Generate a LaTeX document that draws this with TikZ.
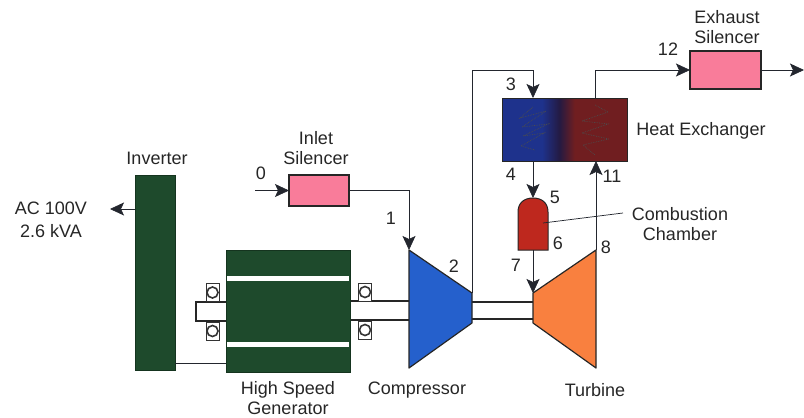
\documentclass[tikz,border=0pt]{standalone}
\usepackage{fontspec}
\setmainfont{Liberation Sans}
\usetikzlibrary{arrows.meta}

\definecolor{gendark}{HTML}{1E4A2C}
\definecolor{silpink}{HTML}{F97C9A}
\definecolor{compblue}{HTML}{2560CC}
\definecolor{turborange}{HTML}{F9803F}
\definecolor{chamred}{HTML}{BE281E}
\definecolor{lineblk}{HTML}{23262E}
\definecolor{hxblue}{HTML}{1E328C}
\definecolor{hxmid}{HTML}{241A42}
\definecolor{hxred}{HTML}{701E20}
\pgfdeclarehorizontalshading{hxshade}{100bp}{
  color(0bp)=(hxblue);
  color(41bp)=(hxblue);
  color(48bp)=(hxmid);
  color(54bp)=(hxred);
  color(100bp)=(hxred)}

\tikzset{
  lbl/.style={font=\fontsize{18}{20}\selectfont,text=black!85,inner sep=0pt,align=center},
  flow/.style={draw=lineblk,line width=0.7pt,-{Stealth[length=14pt,width=13pt,inset=3pt]}},
  plain/.style={draw=lineblk,line width=0.7pt},
  silbox/.style={draw=black!85,line width=1.2pt,fill=silpink,inner sep=0pt,outer sep=0pt},
  genbox/.style={draw=gendark!70!black,line width=0.8pt,fill=gendark,inner sep=0pt,outer sep=0pt},
  stripe/.style={fill=white,inner sep=0pt,outer sep=0pt,minimum width=122pt,minimum height=5pt},
  shaft/.style={draw=black!85,line width=1.2pt,fill=white},
  bearing/.style={draw=black!80,line width=1pt,fill=white,inner sep=0pt,outer sep=0pt,minimum width=13pt,minimum height=18pt},
  coil/.style={draw=black!70,line width=0.7pt,densely dotted}
}

\begin{document}
\begin{tikzpicture}[x=1pt,y=-1pt]
    \useasboundingbox (0,0) rectangle (804,418);

    % shaft
    \draw[shaft] (226,302) -- (196,302) -- (196,321) -- (226,321);
    \draw[shaft] (350,301) -- (409,301) (350,320) -- (409,320);
    \draw[shaft] (472,302) -- (533,302) (472,319) -- (533,319);

    % bearings
    \foreach \name/\x/\y in {bla/212.5/292.5,blb/212.5/331,bra/365/292,brb/365/330}
    {
        \node[bearing] (\name) at (\x,\y) {};
        \draw[black!80,line width=1.6pt] (\name.center) circle[radius=5.5pt];
    }

    % generator and inverter
    \node[genbox,minimum width=124pt,minimum height=122pt] (gen) at (288,311) {};
    \node[stripe] (stripea) at (288,278.5) {};
    \node[stripe] (stripeb) at (288,344.5) {};
    \node[genbox,minimum width=40pt,minimum height=195pt] (inverter) at (155,272.5) {};

    % silencers
    \node[silbox,minimum width=60pt,minimum height=31pt] (inletsil) at (319,190.5) {};
    \node[silbox,minimum width=71pt,minimum height=38pt] (exhsil) at (725.5,70) {};

    % heat exchanger
    \node[draw=black!85,line width=0.9pt,shading=hxshade,inner sep=0pt,outer sep=0pt,minimum width=125pt,minimum height=63pt] (hx) at (564.5,129.5) {};
    \draw[coil] (533,107) -- (520,118) -- (546,111) -- (522,127) -- (548,124) -- (523,136) -- (544,133) -- (521,146) -- (535,150);
    \draw[coil] (595,105) -- (608,112) -- (582,121) -- (608,124) -- (582,133) -- (609,139) -- (583,145) -- (595,155);

    % compressor and turbine
    \coordinate (compa) at (409,250);
    \coordinate (compb) at (472,293);
    \coordinate (compc) at (472,323);
    \coordinate (compd) at (409,368);
    \coordinate (turba) at (533,293);
    \coordinate (turbb) at (596,250);
    \coordinate (turbc) at (596,368);
    \coordinate (turbd) at (533,323);
    \draw[draw=black!85,line width=1.2pt,fill=compblue,line join=round] (compa) -- (compb) -- (compc) -- (compd) -- cycle;
    \draw[draw=black!85,line width=1.2pt,fill=turborange,line join=round] (turba) -- (turbb) -- (turbc) -- (turbd) -- cycle;

    % combustion chamber
    \coordinate (chambot) at (533,250);
    \coordinate (chamtop) at (533,198);
    \draw[draw=black!85,line width=1pt,fill=chamred] (518,250) -- (518,212) .. controls (518,203) and (524,198) .. (chamtop) .. controls (542,198) and (548,203) .. (548,212) -- (548,250) -- cycle;

    % free ends and bends
    \coordinate (inletin) at (255,190.5);
    \coordinate (acout) at (110,209);
    \coordinate (exhout) at (804,70);
    \coordinate (hxtop) at (533,98);
    \coordinate (hxbot) at (533,161);
    \coordinate (hxin) at (596,161);
    \coordinate (hxout) at (595,98);
    \coordinate (chamlabel) at (623,213);
    \coordinate (chammid) at (543,223);

    % flow lines
    \draw[flow] (inletin) -- (inletsil.west);
    \draw[flow] (inletsil.east) -| (compa);
    \draw[flow] (compb) -- (472,70) -- (533,70) -- (hxtop);
    \draw[flow] (hxbot) -- (chamtop);
    \draw[flow] (chambot) -- (turba);
    \draw[flow] (turbb) -- (hxin);
    \draw[flow] (hxout) |- (exhsil.west);
    \draw[flow] (exhsil.east) -- (exhout);
    \draw[flow] (inverter.west |- acout) -- (acout);
    \draw[plain] (inverter.east |- 0,363) -- (gen.west |- 0,363);
    \draw[plain] (chammid) -- (chamlabel);

    % numbers
    \foreach \name/\x/\y/\t in {n0/261/173/0,n1/391/218/1,n2/454/266/2,n3/511/84/3,n4/511/174/4,n5/555/197/5,n6/558/243/6,n7/516/265/7,n8/606/247/8,n11/612/176/11,n12/668/49/12}
        \node[lbl] (\name) at (\x,\y) {\t};

    % labels
    \node[lbl] (aclabel) at (51,220) {AC 100V\\[3pt]2.6 kVA};
    \node[lbl] (invlabel) at (157,158) {Inverter};
    \node[lbl] (inletlabel) at (316,148) {Inlet\\Silencer};
    \node[lbl] (exhlabel) at (727,27) {Exhaust\\Silencer};
    \node[lbl] (hxlabel) at (701,131) {Heat Exchanger};
    \node[lbl] (chamtext) at (680,224) {Combustion\\Chamber};
    \node[lbl] (genlabel) at (288,398) {High Speed\\Generator};
    \node[lbl] (complabel) at (417,390) {Compressor};
    \node[lbl] (turblabel) at (595,390) {Turbine};
\end{tikzpicture}
\end{document}
